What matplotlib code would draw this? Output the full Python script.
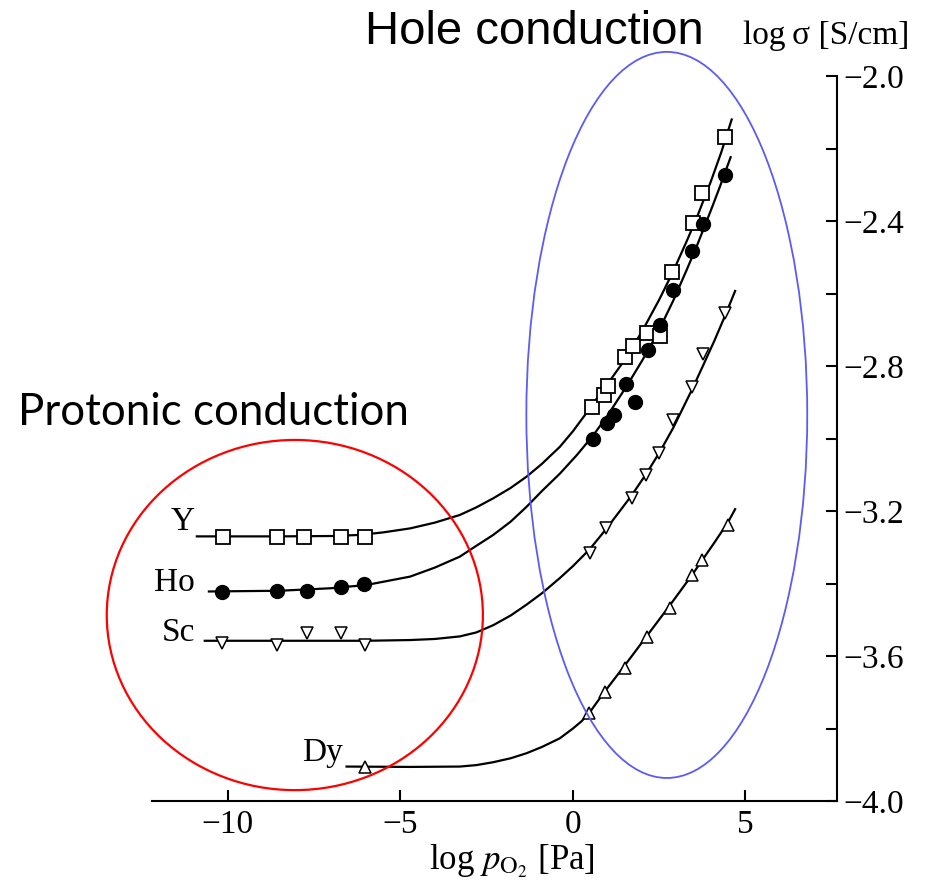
import numpy as np
import matplotlib
matplotlib.use("Agg")
import matplotlib.pyplot as plt
from matplotlib.patches import Ellipse

plt.rcParams['font.family'] = ['Liberation Serif', 'DejaVu Serif']
plt.rcParams['mathtext.fontset'] = 'stix'

# measured points (log pO2 [Pa], log sigma [S/cm])
y_x = [-10.15, -8.59, -7.80, -6.73, -6.03, 0.54, 0.90, 1.02, 1.51, 1.75, 2.14, 2.52, 2.88, 3.47, 3.75, 4.41]
y_y = [-3.271, -3.271, -3.271, -3.271, -3.271, -2.912, -2.880, -2.855, -2.774, -2.745, -2.710, -2.717, -2.541, -2.406, -2.322, -2.167]

ho_x = [-10.18, -8.59, -7.72, -6.73, -6.06, 0.57, 0.98, 1.19, 1.54, 1.80, 2.18, 2.52, 2.91, 3.44, 3.78, 4.41]
ho_y = [-3.423, -3.421, -3.421, -3.409, -3.401, -3.002, -2.956, -2.935, -2.851, -2.900, -2.756, -2.687, -2.590, -2.482, -2.409, -2.273]

sc_x = [-10.18, -8.59, -7.72, -6.73, -6.03, 0.49, 0.96, 1.70, 2.12, 2.50, 2.91, 3.44, 3.78, 4.41]
sc_y = [-3.565, -3.570, -3.536, -3.536, -3.570, -3.317, -3.248, -3.165, -3.101, -3.041, -2.949, -2.857, -2.767, -2.655]

dy_x = [-6.03, 0.47, 0.93, 1.51, 2.14, 2.81, 3.44, 3.73, 4.50]
dy_y = [-3.905, -3.758, -3.698, -3.634, -3.547, -3.468, -3.377, -3.335, -3.239]

# fitted curves
y_cx = [-10.9, -8.5, -7.0, -6.17, -5.5, -4.72, -4.0, -3.28, -2.8, -2.31, -1.8, -1.34, -0.9, -0.38,
        0.0, 0.35, 0.5, 1.0, 1.5, 2.0, 2.5, 2.9, 3.3, 3.6, 4.0, 4.3, 4.6]
y_cy = [-3.270, -3.270, -3.269, -3.266, -3.259, -3.248, -3.232, -3.211, -3.190, -3.165, -3.136, -3.105, -3.070, -3.023,
        -2.980, -2.935, -2.914, -2.850, -2.783, -2.705, -2.617, -2.540, -2.455, -2.388, -2.290, -2.210, -2.120]

ho_cx = [-10.55, -8.5, -7.0, -5.98, -4.72, -4.0, -3.28, -2.8, -2.31, -1.8, -1.34, -0.9, -0.38, 0.11,
         0.59, 1.0, 1.56, 2.0, 2.23, 2.6, 2.91, 3.3, 3.59, 4.0, 4.26, 4.57]
ho_cy = [-3.422, -3.420, -3.413, -3.404, -3.381, -3.356, -3.326, -3.296, -3.266, -3.229, -3.188, -3.145, -3.097, -3.046,
         -2.991, -2.937, -2.855, -2.786, -2.748, -2.680, -2.619, -2.534, -2.469, -2.370, -2.305, -2.224]

sc_cx = [-10.67, -8.5, -6.0, -4.72, -4.0, -3.28, -2.8, -2.31, -1.8, -1.34, -0.9, -0.38, 0.0, 0.49,
         0.96, 1.4, 1.70, 2.12, 2.5, 2.91, 3.44, 3.78, 4.1, 4.41, 4.70]
sc_cy = [-3.558, -3.558, -3.558, -3.556, -3.553, -3.546, -3.535, -3.515, -3.488, -3.458, -3.427, -3.385, -3.352, -3.305,
         -3.250, -3.195, -3.157, -3.098, -3.040, -2.970, -2.867, -2.797, -2.730, -2.661, -2.593]

dy_cx = [-6.56, -4.72, -3.28, -2.8, -2.31, -1.8, -1.34, -0.9, -0.38, 0.0, 0.25, 0.49, 0.7, 0.93,
         1.51, 2.14, 2.81, 3.44, 3.73, 4.1, 4.5, 4.7]
dy_cy = [-3.905, -3.906, -3.905, -3.901, -3.893, -3.882, -3.868, -3.851, -3.827, -3.800, -3.780, -3.755, -3.727, -3.697,
         -3.625, -3.545, -3.460, -3.378, -3.338, -3.287, -3.230, -3.195]

fig = plt.figure(figsize=(9.26, 8.9), dpi=100)
ax = fig.add_axes([0.1641, 0.1000, 0.7397, 0.8146])

for cx, cy in [(y_cx, y_cy), (ho_cx, ho_cy), (sc_cx, sc_cy), (dy_cx, dy_cy)]:
    ax.plot(cx, cy, color='black', lw=1.6, zorder=2, solid_joinstyle='round')

ax.plot(y_x, y_y, ls='none', marker='s', ms=10, mfc='white', mec='black', mew=1.3, zorder=3)
ax.plot(ho_x, ho_y, ls='none', marker='o', ms=10, mfc='black', mec='black', zorder=3)
ax.plot(sc_x, sc_y, ls='none', marker='v', ms=9, mfc='white', mec='black', mew=1.1, zorder=3)
ax.plot(dy_x, dy_y, ls='none', marker='^', ms=9, mfc='white', mec='black', mew=1.1, zorder=3)

lab_kw = dict(ha='right', va='center', fontsize=24)
ax.text(-10.96, -3.230, 'Y', **lab_kw)
ax.text(-10.96, -3.399, 'Ho', **lab_kw)
ax.text(-10.96, -3.537, 'Sc', **lab_kw)
ax.text(-6.67, -3.868, 'Dy', **lab_kw)

ax.set_xlim(-12.2, 7.65)
ax.set_ylim(-4.0, -2.0)
ax.set_xticks([-10, -5, 0, 5])
ax.set_xticklabels(['\u221210', '\u22125', '0', '5'])
yt = np.arange(-4.0, -1.99, 0.2)
ax.set_yticks(yt)
ax.set_yticklabels(['\u2212%.1f' % abs(v) if round(v / 0.4, 6) % 1 == 0 else '' for v in yt])
ax.yaxis.tick_right()
ax.tick_params(axis='both', direction='in', length=8, width=1.5, labelsize=24)
ax.tick_params(axis='x', pad=6)
ax.tick_params(axis='y', pad=5)
for s in ['left', 'top']:
    ax.spines[s].set_visible(False)
for s in ['right', 'bottom']:
    ax.spines[s].set_linewidth(1.5)

ax.set_xlabel(r'log $p_{\mathrm{O_2}}$ [Pa]', fontsize=25, labelpad=2)
ax.xaxis.label.set_x(0.525)
fig.text(0.892, 0.960, 'log\u2009\u03c3 [S/cm]', ha='center', va='center', fontsize=24)

ax.add_patch(Ellipse((-8.06, -3.487), 10.9, 0.966, fill=False, ec='red', lw=1.6, clip_on=False, zorder=4))
ax.add_patch(Ellipse((2.72, -2.935), 8.14, 2.003, fill=False, ec='#5b5bf5', lw=1.3, clip_on=False, zorder=4))

fig.text(0.5767, 0.964, 'Hole conduction', family='Liberation Sans', fontsize=34, ha='center', va='center')
fig.text(0.231, 0.537, 'Protonic conduction', family='Lato', fontsize=31.5, ha='center', va='center')

fig.savefig('out.png', dpi=100)
